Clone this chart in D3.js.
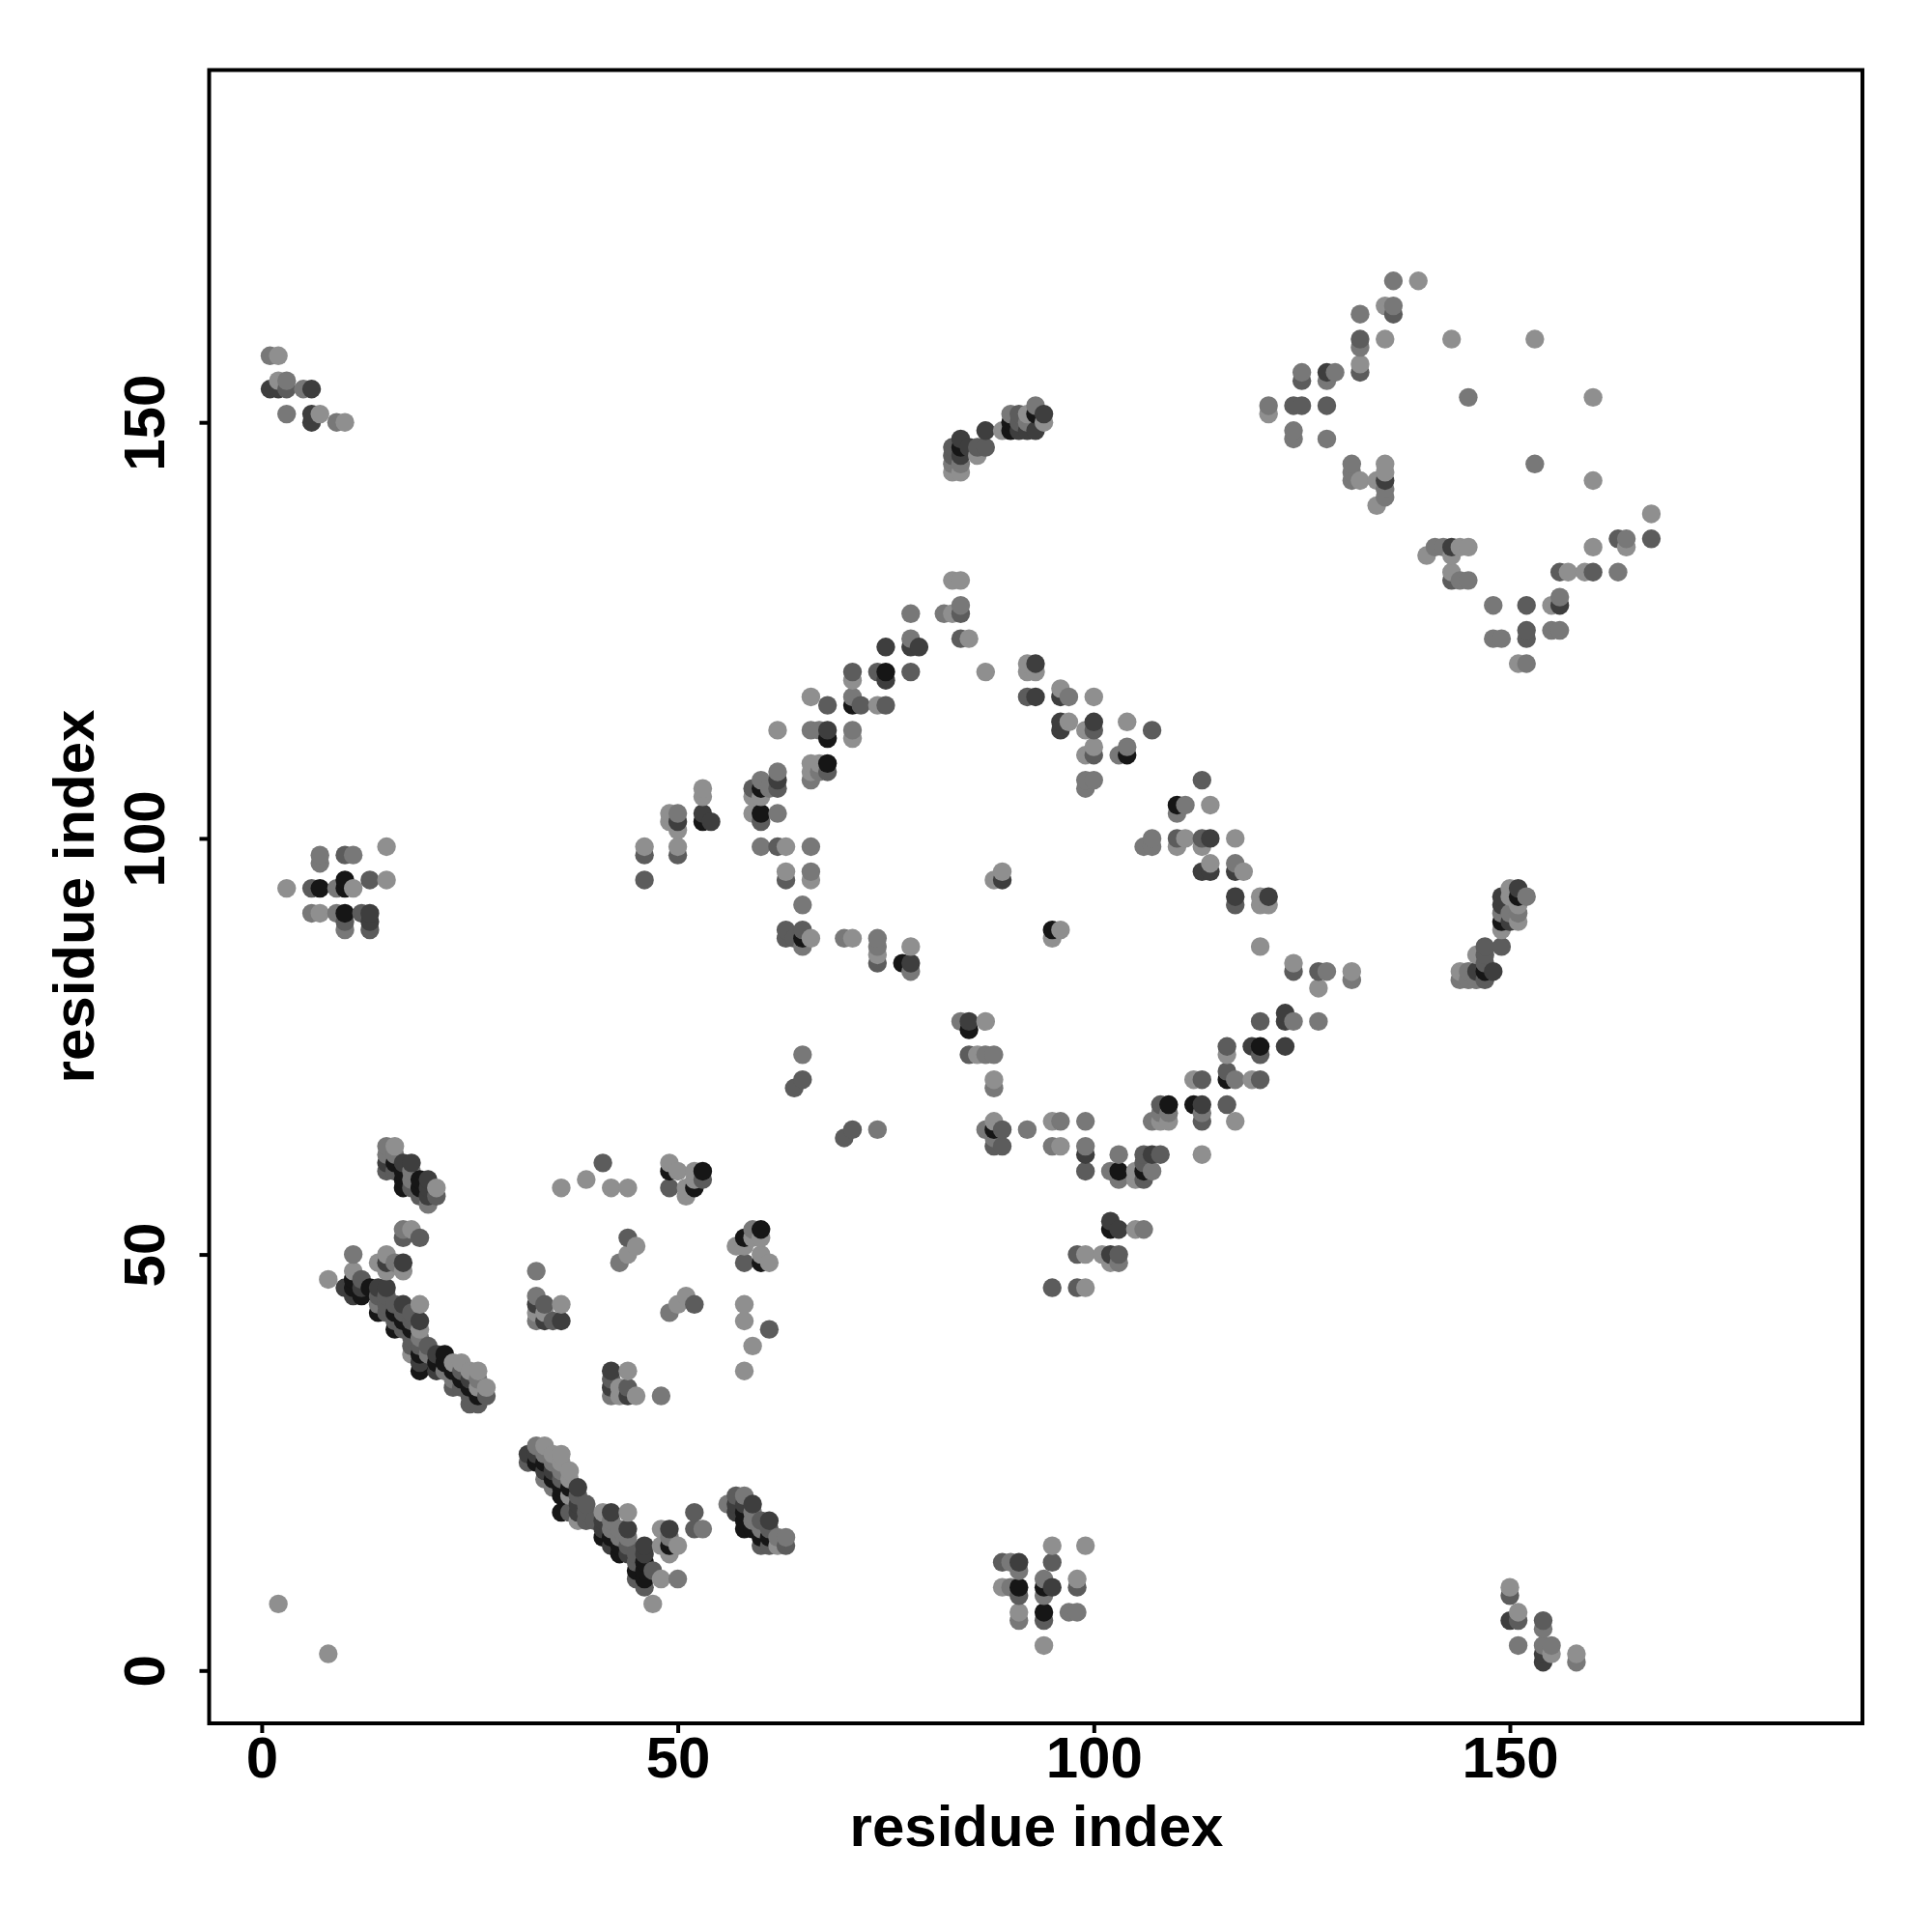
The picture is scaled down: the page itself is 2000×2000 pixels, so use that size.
<!DOCTYPE html>
<html><head><meta charset="utf-8">
<script src="https://cdn.jsdelivr.net/npm/d3@7"></script>
<style>html,body{margin:0;padding:0;background:#fff}svg{display:block}
text{font-family:"Liberation Sans",Arial,sans-serif;font-weight:bold;fill:#000}</style>
</head><body><div id="chart"></div>
<script>
// [x residue, y residue, shade] with shade 0 = lightest ... 4 = darkest
const tickValues = [0, 50, 100, 150];
const axisTitle = "residue index";
const shadeLevels = ["#8f8f8f", "#787878", "#5c5c5c", "#3e3e3e", "#161616"];

const strandUpper = [[15,63,1],[16,63,0],[15,62,1],[16,62,1],[15,61,3],[16,61,4],[17,61,3],[18,61,3],[15,60,2],[16,60,2],[17,60,4],[18,60,1],[17,59,4],[18,59,1],[19,59,4],[20,59,3],[17,58,4],[18,58,2],[19,58,4],[20,58,3],[21,58,0],[19,57,2],[20,57,3],[21,57,2],[20,56,1]];
const strandLeft = [[17,53,1],[17,52,2],[19,52,2],[18,53,0],[11,50,1],[15,50,0],[14,49,0],[15,49,3],[16,49,1],[17,49,3],[15,48,0],[17,48,0],[8,47,0],[11,48,0],[11,47,4],[12,47,2],[10,46,3],[11,46,4],[12,46,3],[13,46,4],[14,46,3],[15,46,3],[11,45,3],[12,45,4],[14,45,2],[15,45,2],[14,44,1],[15,44,2],[16,44,2],[17,44,3],[19,44,0],[14,43,4],[15,43,2],[16,43,4],[17,43,2],[18,43,2],[16,42,2],[17,42,4],[18,42,2],[19,42,3],[16,41,4],[17,41,2],[18,41,4],[19,41,0],[18,40,2],[19,40,1],[18,39,2],[19,39,2],[20,39,2],[18,38,0],[19,38,4],[20,38,1],[21,38,3],[22,38,4],[19,37,3],[21,37,4],[22,37,4],[23,37,0],[24,37,0],[19,36,4],[21,36,3],[22,36,1],[23,36,4],[24,36,2],[25,36,0],[26,36,0],[23,35,1],[24,35,4],[25,35,3],[26,35,1],[23,34,2],[24,34,2],[25,34,4],[26,34,0],[27,34,0],[25,33,2],[26,33,4],[27,33,2],[25,32,2],[26,32,2]];
const strandLower = [[32,26,3],[32,25,2],[33,27,1],[34,27,0],[33,26,3],[34,26,1],[35,26,0],[36,26,0],[33,25,4],[34,25,4],[35,25,1],[36,25,0],[34,24,3],[35,24,3],[36,24,1],[37,24,0],[34,23,1],[35,23,4],[36,23,2],[37,23,0],[35,22,1],[36,22,4],[37,22,4],[38,22,3],[36,21,4],[37,21,0],[38,21,2],[39,20,2],[38,20,3],[36,19,4],[37,19,2],[38,19,3],[39,19,2],[41,19,0],[42,19,3],[44,19,0],[38,18,0],[39,18,2],[40,18,2],[41,18,3],[42,18,1],[41,17,3],[42,17,1],[43,17,1],[44,17,3],[41,16,4],[42,16,4],[43,16,1],[44,16,1],[42,15,3],[43,15,4],[44,15,2],[46,15,3],[43,14,4],[44,14,3],[45,14,2],[46,14,3],[45,13,2],[46,13,4],[45,12,4],[46,12,4],[47,12,2],[45,11,2],[46,11,4],[48,11,0],[50,11,1],[46,10,2],[47,8,0]];
const patchLower = [[48,17,0],[49,17,3],[49,16,1],[48,15,0],[49,15,4],[50,15,0],[49,14,0],[52,19,2],[52,17,2],[53,17,1]];
const strandThird = [[56,20,1],[57,21,2],[58,21,1],[57,20,3],[58,20,3],[59,20,3],[57,19,3],[58,19,4],[59,19,1],[58,18,4],[59,18,1],[60,18,2],[61,18,3],[58,17,4],[59,17,4],[60,17,1],[61,17,2],[60,16,4],[61,16,4],[62,16,1],[63,16,1],[60,15,2],[61,15,2],[62,15,0],[63,15,2]];
const patchMiddle = [[41,61,2],[39,59,0],[36,58,0],[42,58,0],[44,58,0],[49,61,0],[49,60,4],[50,60,0],[49,58,2],[51,57,0],[51,58,0],[52,58,4],[52,59,0],[52,60,0],[53,59,2],[53,60,4],[44,52,2],[45,51,0],[44,50,0],[43,49,1],[59,53,1],[60,53,4],[58,52,4],[59,52,0],[60,52,0],[57,51,0],[58,51,0],[60,50,0],[58,49,2],[60,49,4],[61,49,0],[33,48,1],[33,45,1],[34,44,2],[36,44,0],[33,44,3],[33,43,0],[34,43,0],[33,42,1],[34,42,3],[35,42,2],[36,42,3],[51,45,0],[50,44,0],[52,44,2],[49,43,1],[58,44,0],[58,42,0],[61,41,2],[59,39,0],[58,36,0],[42,36,3],[44,36,0],[42,35,2],[42,34,3],[42,33,1],[43,34,0],[43,33,0],[44,34,2],[44,33,3],[45,33,0],[48,33,1]];
const patchTopLeft = [[1,158,1],[2,158,0],[2,155,0],[3,155,1],[1,154,3],[2,154,3],[3,154,2],[5,154,1],[6,154,3],[3,151,1],[6,151,3],[6,150,3],[7,151,0],[9,150,1],[10,150,0]];
const patchLeftMid = [[15,99,0],[15,95,0],[13,95,2],[7,98,1],[7,97,1],[10,98,2],[11,98,1],[3,94,0],[6,94,2],[7,94,4],[10,95,4],[9,94,1],[10,94,4],[11,94,0],[6,91,1],[7,91,0],[9,91,1],[10,91,4],[10,90,2],[10,89,1],[12,91,2],[13,91,3],[13,90,3],[13,89,2]];
const patchBottomMid = [[95,15,0],[99,15,0],[89,13,2],[90,13,1],[91,13,3],[95,13,2],[91,12,1],[89,10,0],[90,10,1],[91,10,4],[91,9,2],[94,11,1],[98,11,0],[98,10,2],[94,10,4],[95,10,3],[94,9,1],[91,7,0],[91,6,1],[94,7,4],[94,6,2],[97,7,1],[98,7,1],[94,3,0]];
const patchBottomRight = [[150,10,0],[150,9,2],[151,7,0],[150,6,3],[151,6,2],[154,6,2],[154,5,1],[151,3,1],[154,3,1],[155,3,1],[155,2,0],[154,2,3],[154,1,3],[158,2,0],[158,1,1],[2,8,0],[8,2,0]];
const ridgeUpLeft = [[46,99,0],[46,98,2],[46,95,2],[50,99,0],[50,98,2],[49,103,0],[49,102,0],[50,103,1],[50,102,3],[50,101,0],[53,106,0],[53,105,0],[53,103,3],[53,102,4],[54,102,3],[59,106,2],[59,105,0],[59,103,0],[60,107,1],[60,106,4],[60,105,0],[60,103,4],[60,102,2],[61,106,1],[62,108,1],[62,107,3],[62,106,2],[62,103,1],[60,99,1],[62,99,2],[63,99,0],[66,99,1],[63,96,0],[63,95,2],[66,96,1],[66,95,0],[65,92,1],[63,89,2],[63,88,2],[64,88,2],[65,89,2],[65,88,4],[66,88,0],[65,87,1],[70,88,1],[71,88,0],[74,88,1],[74,87,1],[74,86,0],[74,85,2],[78,87,0],[77,85,4],[78,85,3],[78,84,1]];
const ridgeUpMid = [[66,117,0],[68,116,2],[62,113,0],[66,113,1],[67,113,1],[68,113,3],[68,112,4],[71,113,1],[71,112,0],[66,109,0],[66,108,0],[66,107,1],[67,109,0],[67,108,1],[68,109,4],[68,108,2],[71,120,2],[71,119,0],[71,117,1],[71,116,4],[72,116,2],[74,116,0],[75,116,2],[74,120,2],[75,120,4],[75,119,3],[75,123,3],[78,124,1],[78,123,3],[79,123,3],[78,127,1],[78,120,2],[82,127,1],[83,127,0],[84,128,1],[84,127,2],[83,131,0],[84,131,0],[84,124,2],[85,124,0]];
const ridgeDown = [[87,120,0],[92,121,0],[93,121,3],[92,120,0],[93,120,0],[92,117,2],[93,117,3],[96,118,0],[97,117,1],[96,117,3],[100,117,0],[96,114,3],[96,113,3],[97,114,0],[99,113,0],[100,114,3],[100,113,2],[104,114,0],[107,113,2],[100,111,0],[99,110,0],[100,110,2],[103,110,1],[104,111,1],[104,110,4],[99,107,1],[100,107,1],[99,106,1],[113,107,2],[110,104,4],[111,104,1],[110,103,1],[114,104,0],[106,99,1],[107,100,1],[107,99,1],[110,100,2],[110,99,0],[111,100,0],[113,100,2],[113,99,0],[114,100,3],[117,100,0],[113,96,3],[114,97,0],[114,96,3],[117,97,1],[117,96,3],[118,96,0],[117,93,3],[117,92,2],[120,93,0],[120,92,0],[121,93,3],[121,92,0],[89,96,0],[88,95,0],[89,95,3],[95,89,4],[96,89,0],[95,88,0],[120,87,0],[124,85,0],[124,84,2],[127,84,2],[128,84,1],[127,82,0],[131,84,0],[131,83,1]];
const ridgeLowMid = [[65,74,1],[65,71,2],[64,70,2],[71,65,2],[70,64,2],[74,65,1],[84,78,1],[85,78,3],[85,77,4],[87,78,0],[85,74,2],[86,74,0],[87,74,1],[88,74,1],[88,71,0],[88,70,1],[87,65,1],[88,66,0],[88,65,4],[89,65,2],[88,64,1],[88,63,2],[89,63,2],[92,65,1]];
const ridgeLowRight = [[95,66,0],[96,66,1],[95,63,1],[96,63,0],[99,66,1],[99,63,1],[99,62,3],[99,60,2],[103,62,1],[102,60,1],[103,60,4],[103,59,1],[106,62,2],[107,62,3],[108,62,2],[106,61,2],[105,60,0],[105,59,0],[106,60,4],[106,59,2],[107,60,1],[102,54,3],[102,53,4],[103,53,3],[105,53,0],[106,53,1],[98,50,2],[99,50,0],[101,50,0],[102,50,3],[103,50,2],[102,49,0],[103,49,1],[95,46,2],[98,46,2],[99,46,0],[113,62,0],[108,68,2],[109,68,4],[108,67,1],[109,67,1],[107,66,1],[108,66,0],[109,66,0],[112,68,4],[113,68,3],[113,67,1],[113,66,2],[116,68,2],[117,66,0],[112,71,0],[113,71,2],[116,72,2],[116,71,4],[117,71,1],[119,71,0],[120,71,2],[116,75,2],[116,74,0],[119,75,3],[120,75,4],[120,74,2],[123,75,3],[120,78,2],[123,79,3],[123,78,3],[124,78,1],[127,78,1]];
const diamondUpper = [[136,167,1],[139,167,0],[135,164,0],[136,164,1],[136,163,2],[132,163,1],[132,160,2],[132,159,1],[135,160,0],[143,160,0],[153,160,0],[132,157,0],[132,156,2],[128,156,3],[129,156,1],[128,155,1],[125,156,1],[125,155,2],[121,152,1],[121,151,0],[124,152,2],[125,152,2],[128,152,2],[124,149,1],[124,148,1],[128,148,1],[145,153,1],[160,153,0],[153,145,1],[160,143,0],[131,145,1],[131,144,1],[131,143,1],[132,143,0],[135,145,0],[135,144,0],[134,143,0],[135,143,3],[135,142,1],[135,141,1],[134,140,0]];
const diamondLower = [[167,139,0],[167,136,2],[160,135,0],[163,136,2],[164,136,1],[164,135,0],[140,134,0],[141,135,1],[142,135,1],[143,135,3],[143,134,0],[144,135,0],[145,135,0],[143,132,0],[143,131,2],[144,131,1],[145,131,1],[156,132,2],[157,132,0],[159,132,0],[160,132,2],[163,132,1],[148,128,1],[152,128,2],[155,128,0],[156,129,1],[156,128,3],[148,124,1],[149,124,1],[152,125,2],[152,124,2],[155,125,1],[156,125,1],[151,121,0],[152,121,1]];
const clusterTop = [[93,152,1],[94,151,3],[94,150,0],[92,151,0],[90,151,1],[91,151,2],[89,149,0],[90,149,4],[91,149,3],[92,149,3],[93,149,3],[90,150,4],[91,150,2],[92,150,1],[93,151,4],[87,149,3],[87,147,2],[86,147,2],[86,146,0],[84,148,3],[83,147,2],[84,147,4],[85,147,3],[83,146,2],[84,146,3],[83,145,1],[84,145,1],[83,144,0],[84,144,0]];
const clusterRight = [[152,93,1],[151,94,3],[150,94,0],[149,93,3],[151,93,4],[150,93,0],[149,92,3],[151,92,0],[150,91,1],[151,91,1],[149,91,1],[149,90,4],[150,90,3],[151,90,0],[149,89,0],[149,87,2],[147,87,2],[146,86,0],[147,86,2],[147,85,2],[144,84,0],[145,84,1],[146,84,3],[147,84,4],[148,84,3],[144,83,1],[145,83,1],[146,83,1],[147,83,2]];

const contacts = [].concat(strandUpper, strandLeft, strandLower, patchLower, strandThird, patchMiddle, patchTopLeft, patchLeftMid, patchBottomMid, patchBottomRight, ridgeUpLeft, ridgeUpMid, ridgeDown, ridgeLowMid, ridgeLowRight, diamondUpper, diamondLower, clusterTop, clusterRight)
  .map(d => ({x: d[0], y: d[1], s: d[2]}))
  .sort((a, b) => d3.ascending(a.x, b.x) || d3.ascending(a.y, b.y));

const width = 2000, height = 2000;
const frame = {left: 216.5, right: 1928, top: 72.5, bottom: 1784};
const x = d3.scaleLinear().domain([0, 150]).range([270.9, 1563]);
const y = d3.scaleLinear().domain([0, 150]).range([1729.3, 437.2]);
const shade = d3.scaleOrdinal().domain(d3.range(shadeLevels.length)).range(shadeLevels);

const svg = d3.select("#chart").append("svg").attr("width", width).attr("height", height);
svg.append("rect").attr("width", width).attr("height", height).attr("fill", "#fff");

svg.append("g").selectAll("circle").data(contacts).join("circle")
  .attr("cx", d => x(d.x)).attr("cy", d => y(d.y)).attr("r", 9.7)
  .attr("fill", d => shade(d.s));

svg.append("rect").attr("x", frame.left).attr("y", frame.top)
  .attr("width", frame.right - frame.left).attr("height", frame.bottom - frame.top)
  .attr("fill", "none").attr("stroke", "#000").attr("stroke-width", 4);

const ax = svg.append("g").attr("transform", `translate(0,${frame.bottom})`)
  .call(d3.axisBottom(x).tickValues(tickValues).tickSize(10).tickPadding(3).tickFormat(d3.format("d")));
const ay = svg.append("g").attr("transform", `translate(${frame.left},0)`)
  .call(d3.axisLeft(y).tickValues(tickValues).tickSize(10).tickFormat(d3.format("d")));
[ax, ay].forEach(g => {
  g.select(".domain").remove();
  g.selectAll("line").attr("stroke", "#000").attr("stroke-width", 4);
  g.selectAll("text").style("font-size", "60px").style("font-family", '"Liberation Sans"').style("font-weight", "bold").attr("fill", "#000");
});
ay.selectAll("text").attr("x", null).attr("dy", null).attr("text-anchor", "middle")
  .attr("transform", "translate(-47,0) rotate(-90)");

svg.append("text").attr("x", 1073).attr("y", 1911).attr("text-anchor", "middle")
  .style("font-size", "60px").text(axisTitle);
svg.append("text").attr("transform", "translate(97,928) rotate(-90)").attr("text-anchor", "middle")
  .style("font-size", "60px").text(axisTitle);
</script></body></html>
